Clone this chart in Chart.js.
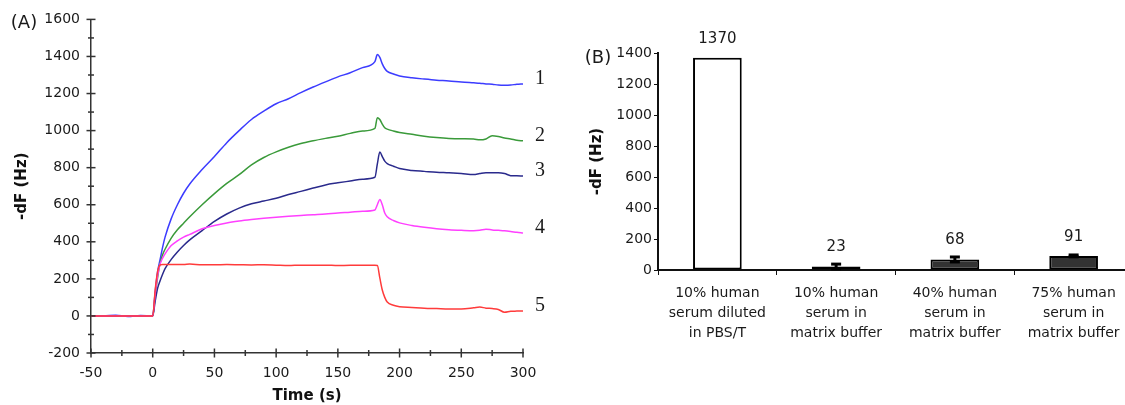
<!DOCTYPE html>
<html>
<head>
<meta charset="utf-8">
<script src="https://cdn.jsdelivr.net/npm/chart.js@4.4.1/dist/chart.umd.min.js"></script>
<style>
  html, body { margin: 0; padding: 0; background: #fff; overflow: hidden; width: 1125px; height: 405px; }
  #graphA { position: absolute; left: 0; top: 0; }
  #graphB { position: absolute; left: 560px; top: 0; }
</style>
</head>
<body>
<canvas id="graphA" width="560" height="405"></canvas>
<canvas id="graphB" width="580" height="405"></canvas>
<script>
'use strict';

// panel A: frequency shift vs time
const time = [-50, -40, -30, -20, -10, 0, 2, 4, 6, 8, 10, 15, 20, 25, 30,
  40, 50, 60, 70, 80, 90, 100, 110, 120, 130, 140, 150, 160, 170, 180,
  182, 184, 186, 188, 190, 195, 200, 210, 220, 230, 240, 250, 260,
  265, 270, 275, 280, 285, 290, 295, 300];

const curve1 = [0, 0, 4, -3, 3, 0, 130, 240, 305, 370, 425, 525, 600, 662, 712,
  790, 860, 935, 1000, 1060, 1105, 1145, 1172, 1205, 1235, 1263, 1290, 1312, 1340, 1372,
  1410, 1395, 1360, 1335, 1320, 1305, 1295, 1285, 1278, 1272, 1268, 1262, 1258,
  1256, 1252, 1250, 1246, 1245, 1246, 1250, 1252];

const curve2 = [0, 0, 0, 0, 0, 0, 110, 210, 285, 330, 360, 420, 465, 500, 535,
  600, 660, 715, 762, 815, 855, 885, 910, 930, 945, 958, 970, 985, 998, 1012,
  1070, 1060, 1035, 1015, 1008, 998, 990, 980, 970, 963, 958, 956, 955,
  950, 955, 972, 968, 960, 955, 948, 945];

const curve3 = [0, 0, 0, 0, 0, 0, 80, 150, 190, 225, 255, 305, 345, 380, 410,
  460, 510, 550, 582, 605, 620, 635, 655, 672, 690, 707, 718, 728, 738, 748,
  820, 885, 860, 835, 822, 808, 795, 785, 780, 775, 772, 768, 763,
  768, 772, 772, 772, 768, 757, 756, 755];

const curve4 = [0, 0, 0, 0, 0, 0, 120, 220, 280, 312, 335, 380, 405, 425, 440,
  470, 488, 502, 512, 520, 527, 533, 538, 542, 546, 550, 556, 560, 565, 572,
  600, 628, 600, 555, 535, 515, 502, 488, 478, 470, 465, 462, 460,
  462, 468, 464, 462, 460, 456, 451, 447];

const curve5 = [0, 0, 0, 0, 0, 0, 140, 240, 275, 278, 278, 278, 277, 277, 280,
  276, 276, 277, 276, 275, 276, 274, 272, 274, 273, 274, 272, 273, 273, 273,
  272, 205, 140, 100, 75, 58, 50, 46, 42, 40, 38, 38, 44,
  48, 42, 40, 35, 20, 25, 26, 27];

// panel B: bar values
const barLabels = [
  ['10% human', 'serum diluted', 'in PBS/T'],
  ['10% human', 'serum in', 'matrix buffer'],
  ['40% human', 'serum in', 'matrix buffer'],
  ['75% human', 'serum in', 'matrix buffer']
];
const barValues = [1370, 23, 68, 91];
const barErrors = [0, 15, 16, 6];

Chart.defaults.font.family = '"DejaVu Sans", sans-serif';
Chart.defaults.color = '#1a1a1a';

function points(values) {
    return time.map((t, i) => ({ x: t, y: values[i] }));
}

function line(ctx, x1, y1, x2, y2) {
    ctx.beginPath();
    ctx.moveTo(x1, y1);
    ctx.lineTo(x2, y2);
    ctx.stroke();
}

// plain numbers, no thousands separator
const plain = v => String(v);

const decorA = {
    id: 'decorA',
    afterDraw(chart) {
        const { ctx, chartArea: a, scales: { x, y } } = chart;
        ctx.save();
        ctx.strokeStyle = '#333';
        ctx.lineWidth = 1.5;
        for (let t = -50; t <= 300; t += 25) {
            const px = x.getPixelForValue(t);
            const len = t % 50 === 0 ? 4.5 : 3;
            line(ctx, px, a.bottom - len, px, a.bottom + len);
        }
        for (let v = -200; v <= 1600; v += 100) {
            const py = y.getPixelForValue(v);
            const len = v % 200 === 0 ? 4.5 : 3;
            line(ctx, a.left - len, py, a.left + len, py);
        }
        // curve numbers next to the ends of the traces
        ctx.fillStyle = '#1a1a1a';
        ctx.font = '20px "Liberation Serif", serif';
        ctx.textAlign = 'center';
        ctx.textBaseline = 'middle';
        chart.data.datasets.forEach((ds, i) => {
            const pts = chart.getDatasetMeta(i).data;
            const last = pts[pts.length - 1];
            ctx.fillText(ds.label, a.right + 17, last.y - 5);
        });
        ctx.font = '18px "DejaVu Sans", sans-serif';
        ctx.fillText('(A)', 24, 23);
        ctx.restore();
    }
};

const decorB = {
    id: 'decorB',
    afterDatasetsDraw(chart) {
        const { ctx, scales: { y } } = chart;
        const bars = chart.getDatasetMeta(0).data;
        ctx.save();
        ctx.strokeStyle = '#000';
        ctx.lineWidth = 3;
        bars.forEach((bar, i) => {
            const err = barErrors[i];
            if (err > 0) {
                const top = y.getPixelForValue(barValues[i] + err);
                const bottom = y.getPixelForValue(barValues[i] - err);
                line(ctx, bar.x, top, bar.x, bottom);
                line(ctx, bar.x - 5, top, bar.x + 5, top);
                line(ctx, bar.x - 5, bottom, bar.x + 5, bottom);
            }
        });
        ctx.fillStyle = '#1a1a1a';
        ctx.font = '15px "DejaVu Sans", sans-serif';
        ctx.textAlign = 'center';
        ctx.textBaseline = 'middle';
        bars.forEach((bar, i) => {
            ctx.fillText(String(barValues[i]), bar.x, bar.y - 19);
        });
        ctx.font = '18px "DejaVu Sans", sans-serif';
        ctx.fillText('(B)', 38, 58);
        ctx.restore();
    }
};

new Chart(document.getElementById('graphA').getContext('2d'), {
    type: 'line',
    data: {
        datasets: [
            { label: '5', data: points(curve5), borderColor: '#ff3b3b' },
            { label: '4', data: points(curve4), borderColor: '#ff40ff' },
            { label: '3', data: points(curve3), borderColor: '#2a2a8c' },
            { label: '2', data: points(curve2), borderColor: '#3a9a3a' },
            { label: '1', data: points(curve1), borderColor: '#3c3cff' }
        ]
    },
    options: {
        responsive: false,
        animation: false,
        devicePixelRatio: 1,
        elements: {
            line: { borderWidth: 1.5, cubicInterpolationMode: 'monotone', fill: false },
            point: { radius: 0 }
        },
        layout: { padding: { top: 17, right: 37, left: 0, bottom: 0 } },
        plugins: { legend: { display: false }, tooltip: { enabled: false } },
        scales: {
            x: {
                type: 'linear',
                min: -50,
                max: 300,
                ticks: { stepSize: 50, padding: 12, maxRotation: 0, font: { size: 14 }, callback: plain },
                grid: { display: true, drawOnChartArea: false, drawTicks: false },
                border: { display: true, color: '#333', width: 1.5 },
                title: { display: true, text: 'Time (s)', color: '#111', font: { size: 15, weight: 'bold' }, padding: { top: 0, bottom: 0 } },
                afterFit(scale) { scale.height = 52; }
            },
            y: {
                min: -200,
                max: 1600,
                ticks: { stepSize: 200, padding: 11, font: { size: 14 }, callback: plain },
                grid: { display: true, drawOnChartArea: false, drawTicks: false },
                border: { display: true, color: '#333', width: 1.5 },
                title: { display: true, text: '-dF (Hz)', color: '#111', font: { size: 15, weight: 'bold' }, padding: { top: 13, bottom: 0 } },
                afterFit(scale) { scale.width = 91; }
            }
        }
    },
    plugins: [decorA]
});

new Chart(document.getElementById('graphB').getContext('2d'), {
    type: 'bar',
    data: {
        labels: barLabels,
        datasets: [{
            data: barValues,
            backgroundColor: ['#ffffff', '#333333', '#333333', '#333333'],
            borderColor: '#000',
            borderWidth: 2,
            borderSkipped: false,
            barPercentage: 0.41,
            categoryPercentage: 1
        }]
    },
    options: {
        responsive: false,
        animation: false,
        devicePixelRatio: 1,
        layout: { padding: { top: 53, right: 7, left: 0, bottom: 0 } },
        plugins: { legend: { display: false }, tooltip: { enabled: false } },
        scales: {
            x: {
                ticks: { padding: 8, maxRotation: 0, autoSkip: false, font: { size: 14, lineHeight: 1.45 } },
                grid: { display: true, drawOnChartArea: false, drawTicks: true, tickLength: 5, color: '#111', offset: true },
                border: { display: true, color: '#111', width: 2 },
                afterFit(scale) { scale.height = 135; }
            },
            y: {
                min: 0,
                max: 1400,
                ticks: { stepSize: 200, padding: 2, font: { size: 14 }, callback: plain },
                grid: { display: true, drawOnChartArea: false, drawTicks: true, tickLength: 4, color: '#111' },
                border: { display: true, color: '#111', width: 2 },
                title: { display: true, text: '-dF (Hz)', color: '#111', font: { size: 15, weight: 'bold' }, padding: { top: 28, bottom: 0 } },
                afterFit(scale) { scale.width = 98; }
            }
        }
    },
    plugins: [decorB]
});
</script>
</body>
</html>
